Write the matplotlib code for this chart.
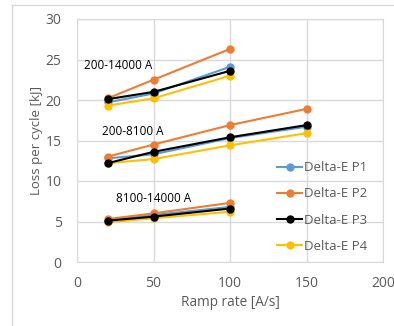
import matplotlib
matplotlib.use('Agg')
import matplotlib.pyplot as plt
from matplotlib.lines import Line2D

plt.rcParams['font.family'] = ['Open Sans', 'DejaVu Sans']

# ramp rates [A/s]
rate_a = [20, 50, 100]
rate_b = [20, 50, 100, 150]

# 200-14000 A
hi_p1 = [19.7, 20.8, 24.1]
hi_p2 = [20.2, 22.5, 26.3]
hi_p3 = [20.1, 21.0, 23.6]
hi_p4 = [19.3, 20.2, 23.0]

# 200-8100 A
mid_p1 = [12.8, 13.3, 15.3, 16.7]
mid_p2 = [13.0, 14.5, 16.9, 18.9]
mid_p3 = [12.2, 13.6, 15.4, 16.9]
mid_p4 = [12.2, 12.7, 14.4, 15.9]

# 8100-14000 A
lo_p1 = [5.1, 5.8, 6.8]
lo_p2 = [5.3, 6.0, 7.3]
lo_p3 = [5.1, 5.6, 6.6]
lo_p4 = [4.9, 5.4, 6.2]

names = ['Delta-E P1', 'Delta-E P2', 'Delta-E P3', 'Delta-E P4']
colors = ['#5b9bd5', '#ed7d31', '#000000', '#ffc000']

fig = plt.figure(figsize=(3.94, 3.26), dpi=100)
ax = fig.add_axes([77/394, 1 - 262/326, 306/394, 243/326])

groups = [
    (rate_a, [hi_p1, hi_p2, hi_p3, hi_p4]),
    (rate_b, [mid_p1, mid_p2, mid_p3, mid_p4]),
    (rate_a, [lo_p1, lo_p2, lo_p3, lo_p4]),
]
for gi, (xs, series) in enumerate(groups):
    for i, ys in enumerate(series):
        ax.plot(xs, ys, color=colors[i], lw=1.5, marker='o', ms=5,
                label=names[i] if gi == 1 else None, zorder=3 + (i == 2))

ax.set_xlim(0, 200)
ax.set_ylim(0, 30)
ax.set_xticks(range(0, 201, 50))
ax.set_yticks(range(0, 31, 5))
ax.grid(True, color='#d9d9d9', lw=1)
ax.set_axisbelow(True)
for s in ax.spines.values():
    s.set_color('#d9d9d9')
ax.tick_params(length=0, colors='#595959', labelsize=10)
ax.tick_params(axis='x', pad=10)
ax.tick_params(axis='y', pad=11)
ax.set_xlabel('Ramp rate [A/s]', color='#595959', fontsize=9.8, labelpad=3)
ax.set_ylabel('Loss per cycle [kJ]', color='#595959', fontsize=9.5, labelpad=2)

ax.text(4.5, 24.3, '200-14000 A', fontsize=8.5, va='center', ha='left')
ax.text(16.5, 16.1, '200-8100 A', fontsize=8.5, va='center', ha='left')
ax.text(25.5, 7.9, '8100-14000 A', fontsize=8.5, va='center', ha='left')

ax.legend(loc='upper left', bbox_to_anchor=(0.655, 0.415), frameon=False,
          fontsize=9.5, labelcolor='#595959', handlelength=1.9,
          handletextpad=0.15, labelspacing=1.0, borderaxespad=0, borderpad=0)

# outer frame of the chart area
fig.add_artist(Line2D([11.5/394, 1], [1 - 4.5/326] * 2, color='#d9d9d9', lw=1))
fig.add_artist(Line2D([11.5/394] * 2, [0, 1 - 4.5/326], color='#d9d9d9', lw=1))

fig.savefig('out.png', dpi=100)
